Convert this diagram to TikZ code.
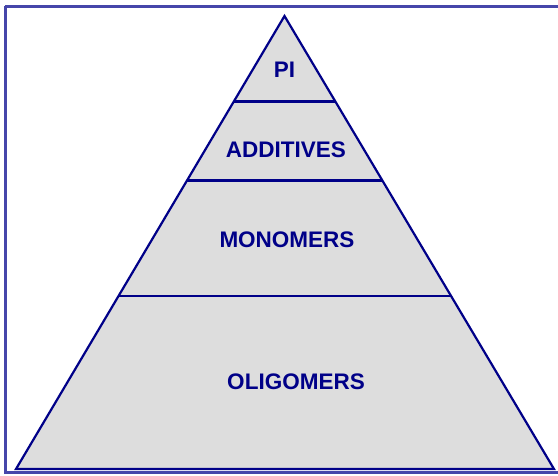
\documentclass[tikz,border=0pt]{standalone}
\usepackage{fontspec}
\setmainfont{Liberation Sans}
\definecolor{navy}{HTML}{000088}
\definecolor{framec}{HTML}{4646AA}
\definecolor{fillg}{HTML}{DDDDDD}
\tikzset{
  tier/.style={draw=navy, line width=2.2pt},
  lbl/.style={text=navy, font=\fontsize{22.5}{26}\selectfont\bfseries, inner sep=0pt},
}
\begin{document}
\begin{tikzpicture}[x=1pt,y=-1pt]
\useasboundingbox (0,0) rectangle (558,475);
\draw[framec, line width=3pt] (5,6) -- (562,6) (5,6) -- (5,472) -- (562,472);
\coordinate (apex) at (284.5,16);
\coordinate (bl) at (16,469);
\coordinate (br) at (554,469);
\fill[fillg] (apex) -- (bl) -- (br) -- cycle;
\coordinate (l1) at (233.5,101.5);
\coordinate (r1) at (335.5,101.5);
\coordinate (l2) at (187,180.5);
\coordinate (r2) at (382.5,180.5);
\coordinate (l3) at (118.5,296);
\coordinate (r3) at (451,296);
\draw[tier] (l1) -- (r1);
\draw[tier] (l2) -- (r2);
\draw[tier] (l3) -- (r3);
\draw[tier, line join=miter] (apex) -- (bl) -- (br) -- cycle;
\node[lbl] (pi) at (284.5,70) {PI};
\node[lbl] (add) at (286,150) {ADDITIVES};
\node[lbl] (mono) at (287,240) {MONOMERS};
\node[lbl] (oligo) at (296,382) {OLIGOMERS};
\end{tikzpicture}
\end{document}
